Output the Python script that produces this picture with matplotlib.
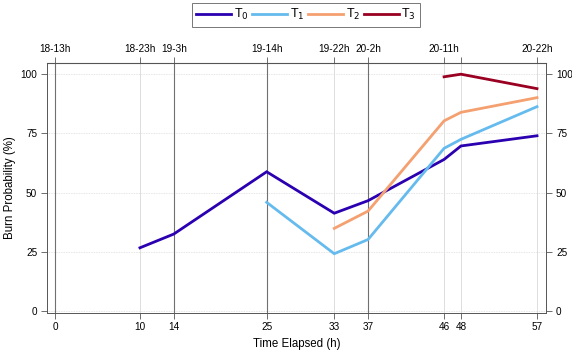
import matplotlib
matplotlib.use("Agg")
import matplotlib.pyplot as plt
from matplotlib.lines import Line2D

plt.rcParams['font.family'] = ['Liberation Sans', 'DejaVu Sans']

t0_x = [10, 14, 25, 33, 37, 46, 48, 57]
t0_y = [26.7, 32.5, 58.8, 41.3, 46.6, 64.0, 69.7, 74.0]
t1_x = [25, 33, 37, 46, 48, 57]
t1_y = [45.9, 24.2, 30.2, 68.7, 72.5, 86.3]
t2_x = [33, 37, 46, 48, 57]
t2_y = [34.9, 42.2, 80.3, 83.9, 90.1]
t3_x = [46, 48, 57]
t3_y = [98.9, 100.0, 93.9]

bottom_ticks = [0, 10, 14, 25, 33, 37, 46, 48, 57]
top_ticks = [0, 10, 14, 25, 33, 37, 46, 48, 57]
top_labels = ['18-13h', '18-23h', '19-3h', '19-14h', '19-22h', '20-2h', '20-11h', '', '20-22h']
dark_lines = [0, 14, 25, 37]
light_lines = [10, 33, 46, 48, 57]
y_ticks = [0, 25, 50, 75, 100]

colors = ['#2a00b0', '#66bbee', '#f4a070', '#990022']
labels = ['T$_0$', 'T$_1$', 'T$_2$', 'T$_3$']

W, H = 572, 354
fig = plt.figure(figsize=(W/100, H/100), dpi=100)
ax = fig.add_axes([47/W, 1-312.7/H, (546.3-47)/W, (312.7-63.3)/H])

for y in y_ticks:
    ax.axhline(y, color='#dddddd', lw=0.6, ls=(0, (1, 1)), zorder=0)
for x in light_lines:
    ax.axvline(x, color='#dddddd', lw=0.7, zorder=0)
for x in dark_lines:
    ax.axvline(x, color='#707070', lw=0.8, zorder=0)

for xs, ys, c in [(t0_x, t0_y, colors[0]), (t1_x, t1_y, colors[1]),
                  (t2_x, t2_y, colors[2]), (t3_x, t3_y, colors[3])]:
    ax.plot(xs, ys, color=c, lw=2, solid_joinstyle='miter', zorder=3)

ax.set_xlim(-1, 58.1)
ax.set_ylim(-0.7, 104.6)
ax.set_xticks(bottom_ticks)
ax.set_yticks(y_ticks)
ax.tick_params(axis='both', direction='out', length=4.5, width=0.6, color='#555555',
               labelsize=7.2, pad=2.5, right=True, labelright=True)
for s in ax.spines.values():
    s.set_color('#555555')
    s.set_linewidth(0.7)

top = ax.secondary_xaxis('top')
top.set_xticks(top_ticks)
top.set_xticklabels(top_labels)
top.tick_params(direction='out', length=4.5, width=0.6, color='#555555', labelsize=7.2, pad=2)
top.spines['top'].set_color('#555555')

ax.set_xlabel('Time Elapsed (h)', fontsize=8.3, labelpad=4)
ax.set_ylabel('Burn Probability (%)', fontsize=8.3, labelpad=3)

handles = [Line2D([0], [0], color=c, lw=2) for c in colors]
leg = fig.legend(handles, labels, loc='center', bbox_to_anchor=(306/W, 1-14.7/H),
                 ncol=4, fontsize=9, frameon=True, fancybox=False, handlelength=2.8,
                 handletextpad=0.2, columnspacing=0.3, borderpad=0.35, borderaxespad=0)
leg.get_frame().set_edgecolor('#555555')
leg.get_frame().set_linewidth(0.7)

fig.savefig('out.png', dpi=100)
